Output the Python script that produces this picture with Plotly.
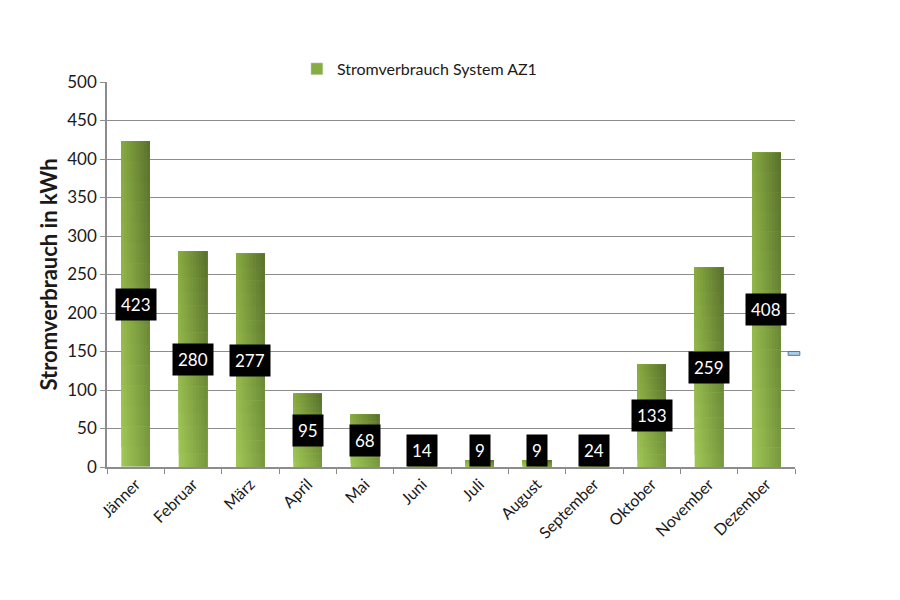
import plotly.graph_objects as go

months = ["Jänner", "Februar", "März", "April", "Mai", "Juni", "Juli",
          "August", "September", "Oktober", "November", "Dezember"]
consumption = [423, 280, 277, 95, 68, 14, 9, 9, 24, 133, 259, 408]
series_name = "Stromverbrauch System AZ1"
y_title = "Stromverbrauch in kWh"
y_ticks = [0, 50, 100, 150, 200, 250, 300, 350, 400, 450, 500]

FONT = "Lato, 'Open Sans', sans-serif"

# bilinear gradient corners (bottom-left, bottom-right, top-left, top-right)
BL, BR, TL, TR = (162, 200, 88), (120, 154, 62), (136, 170, 64), (88, 112, 44)


def mix(fx, fy):
    c = []
    for a, b, cc, d in zip(BL, BR, TL, TR):
        bottom = a + (b - a) * fx
        top = cc + (d - cc) * fx
        c.append(round(bottom + (top - bottom) * fy))
    return "rgb(%d,%d,%d)" % tuple(c)


fig = go.Figure()
W = 0.5
NX, NY = 10, 16
for k in range(NY):
    bases = [v * k / NY for v in consumption]
    heights = [v - b for v, b in zip(consumption, bases)]
    for i in range(NX):
        off = -W / 2 + i * W / NX
        fig.add_trace(go.Bar(
            x=months, y=heights, base=bases,
            offset=off, width=W - i * W / NX,
            marker=dict(color=mix((i + 0.5) / NX, (k + 0.5) / NY), line=dict(width=0)),
            showlegend=False, hoverinfo="skip",
        ))

# legend entry
fig.add_trace(go.Bar(x=[months[0]], y=[0], name=series_name,
                     marker=dict(color="rgb(134,172,66)"), showlegend=True,
                     hoverinfo="skip"))

for m, v in zip(months, consumption):
    fig.add_annotation(x=m, y=max(v / 2, 21), text=str(v), showarrow=False,
                       font=dict(family=FONT, size=17, color="white"),
                       bgcolor="black", borderpad=5)

fig.add_shape(type="rect", xref="paper", yref="y", x0=0.99, x1=1.007, y0=145, y1=150,
              fillcolor="#a9cde8", line=dict(color="#4a7ba6", width=1))

fig.update_layout(
    width=900, height=600,
    margin=dict(l=99, r=113, t=74, b=141, autoexpand=False),
    paper_bgcolor="white", plot_bgcolor="white",
    barmode="overlay", bargap=0.5,
    font=dict(family=FONT, color="#1a1a1a"),
    legend=dict(orientation="h", x=0.276, xanchor="left", y=1.034, yanchor="middle",
                font=dict(family=FONT, size=16, color="#1a1a1a"),
                itemwidth=30, bgcolor="rgba(0,0,0,0)"),
    xaxis=dict(type="category", tickangle=-45, tickson="boundaries",
               ticks="outside", ticklen=5, tickcolor="#8c8c8c",
               showline=True, linecolor="#8c8c8c", linewidth=1.5,
               showgrid=False, tickfont=dict(family=FONT, size=16, color="#1a1a1a")),
    yaxis=dict(range=[0, 500], tickvals=y_ticks, ticks="outside", ticklen=5,
               tickcolor="#8c8c8c", showline=True, linecolor="#8c8c8c", linewidth=1.5,
               gridcolor="#8c8c8c", gridwidth=1, zeroline=False,
               tickfont=dict(family=FONT, size=17, color="#1a1a1a"),
               title=dict(text="<b>" + y_title + "</b>", standoff=4,
                          font=dict(family=FONT, size=22, color="#1a1a1a"))),
)

fig.write_html("out.html")
